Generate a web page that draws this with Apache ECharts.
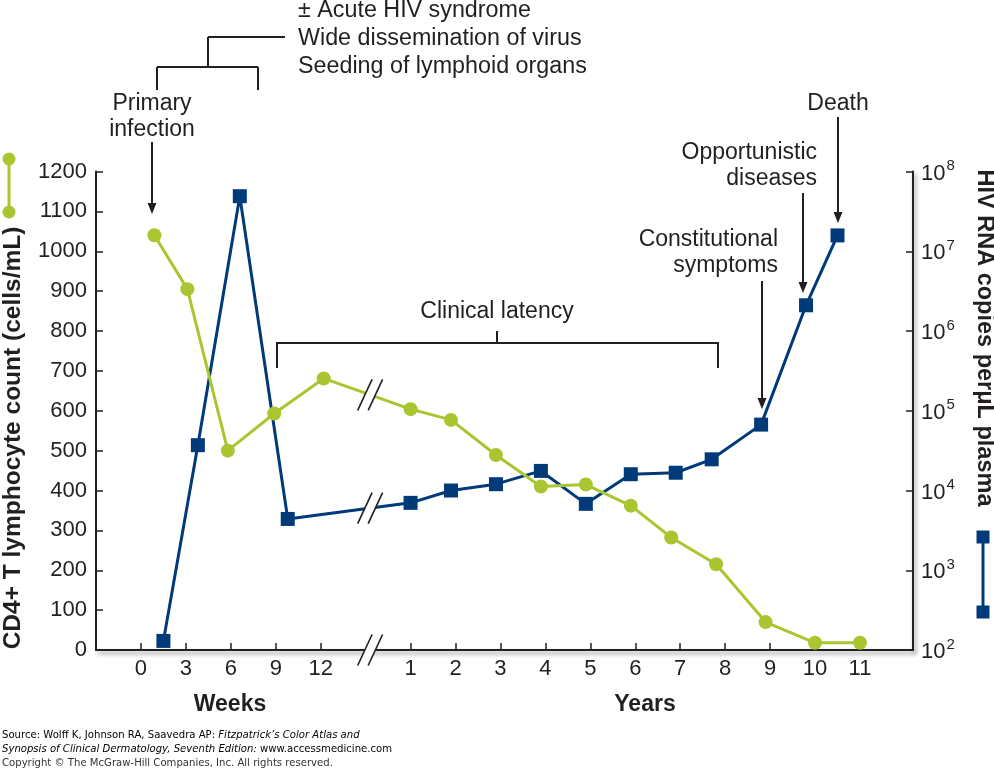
<!DOCTYPE html>
<html><head><meta charset="utf-8">
<script src="https://cdn.jsdelivr.net/npm/echarts@6/dist/echarts.min.js"></script>
<style>html,body{margin:0;padding:0;background:#fff}#c{width:994px;height:769px}</style>
</head><body><div id="c"></div>
<script>
// ---- data ----
const weekTicks = [0, 3, 6, 9, 12];
const yearTicks = [1, 2, 3, 4, 5, 6, 7, 8, 9, 10, 11];
const cd4Weeks = [0.9, 3.1, 5.8, 8.9, 12.2];
const cd4WeekValues = [1040, 905, 500, 593, 681];
const cd4Years = [1.0, 1.9, 2.9, 3.9, 4.9, 5.9, 6.8, 7.8, 8.9, 10.0, 11.0];
const cd4YearValues = [604, 577, 489, 410, 415, 362, 282, 215, 70, 18, 18];
const rnaWeeks = [1.5, 3.8, 6.6, 9.8];
const rnaWeekValues = [130, 37000, 49000000, 4400];
const rnaYears = [1.0, 1.9, 2.9, 3.9, 4.9, 5.9, 6.9, 7.7, 8.8, 9.8, 10.5];
const rnaYearValues = [7000, 10000, 12000, 17600, 6800, 16000, 16700, 24600, 67000, 2100000, 15800000];

// composite axis: weeks occupy 0..4 (week/3), break at 5.1, years at 5+year
const weekPos = w => w / 3;
const yearPos = y => 5 + y;
const BREAK_POS = 5.1;

const GREEN = '#a9c52f', BLUE = '#003a78', INK = '#231f20';
const FONT = '"Liberation Sans", Arial, Helvetica, sans-serif';
const FOOT_FONT = '"DejaVu Sans", Verdana, sans-serif';

const cd4Data = cd4Weeks.map((w, i) => [weekPos(w), cd4WeekValues[i]])
  .concat(cd4Years.map((y, i) => [yearPos(y), cd4YearValues[i]]));
const rnaData = rnaWeeks.map((w, i) => [weekPos(w), rnaWeekValues[i]])
  .concat(rnaYears.map((y, i) => [yearPos(y), rnaYearValues[i]]));
const xTickPos = weekTicks.map(weekPos).concat(yearTicks.map(yearPos));

const axisShadow = { shadowColor: 'rgba(0,0,0,0.45)', shadowBlur: 4, shadowOffsetX: 2, shadowOffsetY: 3 };

const chart = echarts.init(document.getElementById('c'), null, { renderer: 'canvas' });
chart.setOption({
  animation: false,
  backgroundColor: '#fff',
  grid: { left: 96, right: 81, top: 171.5, bottom: 119, containLabel: false },
  xAxis: {
    type: 'value', min: -1, max: 17.18, interval: 1,
    axisLine: { show: true, onZero: false, lineStyle: Object.assign({ color: INK, width: 2 }, axisShadow) },
    axisTick: { show: true, inside: true, length: 7, customValues: xTickPos, lineStyle: { color: INK, width: 1.5 } },
    axisLabel: {
      customValues: xTickPos, margin: 8, color: INK, fontSize: 22, fontFamily: FONT,
      formatter: v => v < 5 ? String(Math.round(v * 3)) : String(Math.round(v - 5))
    },
    splitLine: { show: false }
  },
  yAxis: [
    {
      type: 'value', min: 0, max: 1200, interval: 100, position: 'left',
      axisLine: { show: true, onZero: false, lineStyle: { color: INK, width: 2 } },
      axisTick: { show: true, inside: true, length: 7, lineStyle: { color: INK, width: 1.5 } },
      axisLabel: { margin: 9, color: INK, fontSize: 22, fontFamily: FONT, formatter: v => String(v) },
      splitLine: { show: false }
    },
    {
      type: 'log', logBase: 10, min: 100, max: 100000000, interval: 1, position: 'right',
      axisLine: { show: true, onZero: false, lineStyle: Object.assign({ color: INK, width: 2 }, axisShadow) },
      axisTick: { show: true, inside: true, length: 7, lineStyle: { color: INK, width: 1.5 } },
      axisLabel: {
        margin: 8, color: INK, fontFamily: FONT,
        formatter: v => '{b|10}{s|' + Math.round(Math.log10(v)) + '}',
        rich: {
          b: { fontSize: 22, fontFamily: FONT, color: INK, lineHeight: 26, verticalAlign: 'bottom' },
          s: { fontSize: 15, fontFamily: FONT, color: INK, lineHeight: 26, verticalAlign: 'top', padding: [0, 0, 0, 1] }
        }
      },
      splitLine: { show: false }
    }
  ],
  series: [
    {
      name: 'HIV RNA', type: 'line', yAxisIndex: 1, data: rnaData,
      symbol: 'rect', symbolSize: 14, showSymbol: true,
      itemStyle: { color: BLUE }, lineStyle: { color: BLUE, width: 3 }, z: 3
    },
    {
      name: 'CD4', type: 'line', yAxisIndex: 0, data: cd4Data,
      symbol: 'circle', symbolSize: 14, showSymbol: true,
      itemStyle: { color: GREEN }, lineStyle: { color: GREEN, width: 3 }, z: 4
    }
  ]
});

// ---- annotations ----
function breakCenter(data, yIdx) {
  let a, b;
  for (let i = 0; i < data.length - 1; i++) {
    if (data[i][0] < BREAK_POS && data[i + 1][0] > BREAK_POS) { a = data[i]; b = data[i + 1]; }
  }
  const pa = chart.convertToPixel({ xAxisIndex: 0, yAxisIndex: yIdx }, a);
  const pb = chart.convertToPixel({ xAxisIndex: 0, yAxisIndex: yIdx }, b);
  const bx = chart.convertToPixel({ xAxisIndex: 0 }, BREAK_POS);
  const t = (bx - pa[0]) / (pb[0] - pa[0]);
  return [bx, pa[1] + t * (pb[1] - pa[1])];
}
function breakMark(c) {
  const d = 5.25, hx = 7.2, hy = 15.5;
  const s1 = [[c[0] - d - hx, c[1] + hy], [c[0] - d + hx, c[1] - hy]];
  const s2 = [[c[0] + d - hx, c[1] + hy], [c[0] + d + hx, c[1] - hy]];
  return [
    { type: 'polygon', z: 100, shape: { points: [s1[0], s1[1], s2[1], s2[0]] }, style: { fill: '#fff' } },
    { type: 'line', z: 101, shape: { x1: s1[0][0], y1: s1[0][1], x2: s1[1][0], y2: s1[1][1] }, style: { stroke: INK, lineWidth: 1.6 } },
    { type: 'line', z: 101, shape: { x1: s2[0][0], y1: s2[0][1], x2: s2[1][0], y2: s2[1][1] }, style: { stroke: INK, lineWidth: 1.6 } }
  ];
}
function txt(text, x, y, opt) {
  opt = opt || {};
  return {
    type: 'text', z: 110, x: x, y: y, rotation: opt.rotation || 0,
    style: Object.assign({ text: text, fontSize: 23, fontFamily: FONT, fill: INK, align: 'center', verticalAlign: 'middle' }, opt.style)
  };
}
function ln(x1, y1, x2, y2, w) {
  return { type: 'line', z: 110, shape: { x1: x1, y1: y1, x2: x2, y2: y2 }, style: { stroke: INK, lineWidth: w || 2 } };
}
function arrow(x, y1, y2) {
  return [ln(x, y1, x, y2 - 8, 2),
    { type: 'polygon', z: 110, shape: { points: [[x - 4.5, y2 - 11], [x + 4.5, y2 - 11], [x, y2]] }, style: { fill: INK } }];
}

const axisC = [chart.convertToPixel({ xAxisIndex: 0 }, BREAK_POS), chart.convertToPixel({ yAxisIndex: 0 }, 0)];
const gC = breakCenter(cd4Data, 0);
const bC = breakCenter(rnaData, 1);

const rich = {
  n: { fontFamily: FOOT_FONT, fontSize: 10.1, color: '#333' },
  i: { fontFamily: FOOT_FONT, fontSize: 10.1, color: '#333', fontStyle: 'italic' }
};

const elements = [].concat(
  breakMark(axisC), breakMark(gC), breakMark(bC),
  [txt('Primary', 152, 104), txt('infection', 152, 130)],
  arrow(152, 142, 214),
  [ln(157, 90, 157, 67), ln(157, 67, 258, 67), ln(258, 67, 258, 90), ln(208, 67, 208, 37), ln(208, 37, 285, 37)],
  [txt('\u00b1 Acute HIV syndrome', 298, 11, { style: { align: 'left', fontSize: 23.3 } }),
   txt('Wide dissemination of virus', 298, 39, { style: { align: 'left', fontSize: 23.3 } }),
   txt('Seeding of lymphoid organs', 298, 67, { style: { align: 'left', fontSize: 23.3 } })],
  [txt('Clinical latency', 497, 312), ln(277, 343, 718, 343), ln(277, 342, 277, 368), ln(718, 342, 718, 368), ln(497, 343, 497, 331)],
  [txt('Constitutional', 778, 240, { style: { align: 'right' } }), txt('symptoms', 778, 266, { style: { align: 'right' } })],
  arrow(762, 281, 409),
  [txt('Opportunistic', 817, 153, { style: { align: 'right' } }), txt('diseases', 817, 179, { style: { align: 'right' } })],
  arrow(803, 193, 293),
  [txt('Death', 838, 104)],
  arrow(838, 117, 223),
  [txt('CD4+ T lymphocyte count (cells/mL)', 13, 438, { rotation: Math.PI / 2, style: { fontWeight: 'bold', fontSize: 24.5 } }),
   txt('HIV RNA copies per\u03bcL plasma', 984, 338, { rotation: -Math.PI / 2, style: { fontWeight: 'bold', fontSize: 23.5 } }),
   txt('Weeks', 230, 705, { style: { fontWeight: 'bold' } }),
   txt('Years', 645, 705, { style: { fontWeight: 'bold' } })],
  [{ type: 'line', z: 110, shape: { x1: 9, y1: 159, x2: 9, y2: 212 }, style: { stroke: GREEN, lineWidth: 3 } },
   { type: 'circle', z: 111, shape: { cx: 9, cy: 159, r: 6.5 }, style: { fill: GREEN } },
   { type: 'circle', z: 111, shape: { cx: 9, cy: 212, r: 6.5 }, style: { fill: GREEN } },
   { type: 'line', z: 110, shape: { x1: 983, y1: 537, x2: 983, y2: 612 }, style: { stroke: BLUE, lineWidth: 3 } },
   { type: 'rect', z: 111, shape: { x: 976.5, y: 530.5, width: 13, height: 13 }, style: { fill: BLUE } },
   { type: 'rect', z: 111, shape: { x: 976.5, y: 605.5, width: 13, height: 13 }, style: { fill: BLUE } }],
  [{ type: 'text', z: 110, x: 2, y: 735, style: { text: '{n|Source: Wolff K, Johnson RA, Saavedra AP: }{i|Fitzpatrick\u2019s Color Atlas and}', rich: rich, verticalAlign: 'middle' } },
   { type: 'text', z: 110, x: 2, y: 749, style: { text: '{i|Synopsis of Clinical Dermatology, Seventh Edition:}{n| www.accessmedicine.com}', rich: rich, verticalAlign: 'middle' } },
   { type: 'text', z: 110, x: 2, y: 763, style: { text: 'Copyright \u00a9 The McGraw-Hill Companies, Inc. All rights reserved.', fontFamily: FOOT_FONT, fontSize: 10.1, fill: '#333', align: 'left', verticalAlign: 'middle' } }]
);
chart.setOption({ graphic: { elements: elements } });
</script>
</body></html>
